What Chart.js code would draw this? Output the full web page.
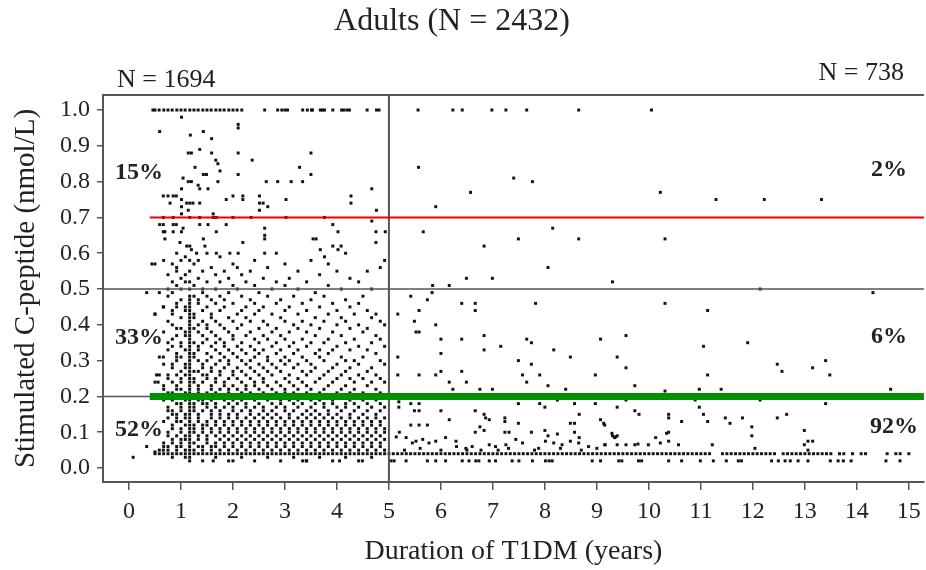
<!DOCTYPE html>
<html>
<head>
<meta charset="utf-8">
<script src="https://cdn.jsdelivr.net/npm/chart.js@4.4.1/dist/chart.umd.min.js"></script>
<style>
  html, body { margin: 0; padding: 0; background: #fff; }
</style>
</head>
<body>
<canvas id="chart" width="926" height="570"></canvas>
<script>
// axis ticks
const durationTicks = [0, 1, 2, 3, 4, 5, 6, 7, 8, 9, 10, 11, 12, 13, 14, 15];
const cpeptideTicks = [0, 0.1, 0.2, 0.3, 0.4, 0.5, 0.6, 0.7, 0.8, 0.9, 1.0];

// first 5 years, one column per month of duration, C-peptide in 0.01 nmol/L
const leftMonths = [6, 7, 8, 9, 10, 11, 12, 13, 14, 15, 16, 17, 18, 19, 20, 21, 22, 23, 24, 25, 26, 27, 28, 29, 30, 31, 32,
  33, 34, 35, 36, 37, 38, 39, 40, 41, 42, 43, 44, 45, 46, 47, 48, 49, 50, 51, 52, 53, 54, 55, 56, 57, 58, 59];
const leftCpeptide = [
  [4, 24, 43, 57],
  [4, 5, 26, 31, 49],
  [4, 6, 7, 13, 19, 22, 23, 29, 38, 45, 58],
  [4, 5, 6, 9, 10, 14, 16, 17, 21, 25, 26, 33, 35, 41, 48, 50, 54],
  [3, 4, 7, 8, 11, 12, 15, 16, 19, 20, 21, 24, 28, 29, 34, 36, 40, 43, 44, 49, 52, 57],
  [4, 5, 6, 9, 13, 14, 15, 18, 22, 23, 26, 30, 31, 32, 37, 39, 45, 46, 51, 55, 56, 60],
  [4, 6, 7, 8, 10, 11, 13, 16, 17, 18, 22, 24, 25, 27, 31, 34, 35, 39, 42, 47, 50, 53, 58],
  [3, 4, 5, 8, 9, 12, 14, 15, 19, 20, 21, 26, 28, 29, 33, 37, 38, 44, 45, 52, 54, 59],
  [2, 3, 4, 5, 6, 7, 8, 9, 10, 11, 12, 13, 14, 15, 16, 17, 18, 19, 20, 21, 22, 23, 24, 25, 26, 27, 28, 29, 30, 31, 32,
    33, 34, 35, 36, 37, 38, 39, 40, 41, 42, 43, 44, 45, 46, 47, 48, 50, 52, 55, 58],
  [4, 5, 7, 10, 11, 12, 16, 17, 18, 20, 24, 25, 27, 31, 32, 35, 39, 42, 43, 48, 51, 57],
  [4, 6, 8, 9, 13, 14, 15, 19, 21, 22, 23, 27, 30, 33, 34, 38, 40, 46, 47, 53, 58],
  [2, 4, 5, 6, 10, 11, 12, 16, 18, 19, 24, 26, 28, 29, 35, 37, 41, 44, 49, 50, 55],
  [4, 7, 8, 9, 12, 13, 17, 18, 20, 21, 25, 26, 30, 32, 36, 39, 40, 45, 48, 52, 60],
  [4, 5, 6, 10, 11, 14, 15, 16, 19, 22, 23, 27, 28, 31, 34, 38, 42, 43, 47, 56],
  [3, 4, 6, 7, 9, 12, 13, 17, 18, 21, 24, 25, 29, 33, 35, 37, 41, 46, 50, 54],
  [4, 5, 8, 10, 11, 14, 15, 16, 20, 22, 26, 27, 30, 32, 36, 40, 44, 48, 52, 59],
  [4, 6, 7, 9, 12, 13, 17, 19, 20, 23, 24, 28, 31, 34, 35, 39, 45, 47, 55],
  [2, 4, 5, 8, 10, 11, 14, 15, 18, 21, 22, 25, 29, 30, 33, 38, 42, 49, 53],
  [4, 6, 7, 9, 12, 13, 16, 17, 19, 23, 26, 27, 32, 36, 37, 41, 46, 51, 57],
  [4, 5, 8, 10, 11, 14, 15, 18, 20, 22, 25, 28, 31, 34, 39, 43, 50, 56],
  [3, 4, 6, 7, 9, 12, 13, 16, 19, 21, 24, 27, 30, 33, 35, 40, 44, 48, 54],
  [4, 5, 8, 10, 11, 14, 17, 18, 22, 23, 26, 29, 32, 37, 42, 45, 52],
  [4, 6, 7, 9, 12, 13, 15, 16, 20, 21, 25, 28, 30, 34, 38, 41, 47, 55],
  [2, 4, 5, 8, 10, 11, 14, 17, 19, 23, 24, 27, 31, 33, 36, 43, 46, 51, 58],
  [4, 6, 7, 9, 12, 13, 15, 18, 20, 22, 26, 29, 32, 35, 39, 44, 49],
  [4, 5, 8, 10, 11, 14, 16, 17, 21, 24, 25, 28, 33, 37, 41, 45, 53],
  [3, 4, 6, 7, 9, 12, 13, 15, 19, 20, 23, 27, 30, 31, 36, 40, 48, 56],
  [4, 5, 8, 10, 11, 14, 16, 18, 22, 26, 29, 34, 38, 43, 50],
  [4, 6, 7, 9, 12, 13, 15, 17, 20, 21, 24, 28, 32, 35, 39, 46, 52, 60],
  [2, 4, 5, 8, 10, 11, 14, 18, 19, 23, 27, 30, 33, 37, 42, 47],
  [4, 6, 7, 9, 12, 13, 16, 17, 21, 22, 25, 29, 31, 36, 41, 44, 51, 57],
  [4, 5, 8, 10, 11, 14, 15, 19, 20, 24, 26, 30, 34, 38, 45, 53],
  [3, 4, 6, 7, 9, 12, 13, 16, 18, 21, 23, 28, 32, 35, 40, 48],
  [4, 5, 8, 10, 11, 14, 17, 19, 22, 25, 29, 33, 39, 43, 50, 55],
  [4, 6, 7, 9, 12, 13, 15, 18, 20, 24, 27, 31, 36, 41, 46],
  [2, 4, 5, 8, 10, 11, 14, 16, 21, 23, 26, 30, 34, 38, 44, 52],
  [4, 6, 7, 9, 12, 13, 15, 17, 19, 22, 27, 29, 35, 40, 47, 58],
  [4, 5, 8, 10, 11, 14, 16, 18, 20, 24, 28, 32, 37, 42, 49],
  [3, 4, 6, 7, 9, 12, 13, 15, 19, 21, 25, 31, 33, 39, 45, 54],
  [4, 5, 8, 10, 11, 14, 17, 18, 22, 26, 30, 35, 41, 48],
  [4, 6, 7, 9, 12, 13, 15, 16, 20, 23, 27, 32, 36, 43, 51, 57],
  [2, 4, 5, 8, 10, 11, 14, 18, 19, 24, 28, 33, 38, 46],
  [4, 6, 7, 9, 12, 13, 15, 17, 21, 25, 29, 34, 40, 44, 55],
  [4, 5, 8, 10, 11, 14, 16, 20, 22, 26, 31, 37, 42, 50],
  [3, 4, 6, 7, 9, 12, 13, 17, 18, 23, 27, 30, 35, 41, 47, 60],
  [4, 5, 8, 10, 11, 14, 15, 19, 21, 25, 28, 33, 39, 45, 53],
  [4, 6, 7, 9, 12, 13, 16, 18, 22, 24, 30, 36, 43],
  [2, 4, 5, 8, 10, 11, 14, 17, 20, 26, 29, 34, 40, 46, 52],
  [4, 6, 7, 9, 12, 13, 15, 19, 21, 25, 31, 38, 48],
  [4, 5, 8, 10, 11, 14, 16, 18, 23, 27, 33, 39, 44, 55],
  [3, 4, 6, 7, 9, 12, 13, 17, 20, 24, 28, 35, 42, 50],
  [4, 5, 8, 10, 11, 14, 15, 19, 22, 26, 32, 37, 43],
  [4, 6, 7, 9, 12, 13, 16, 18, 21, 25, 30, 36, 41, 56],
  [4, 5, 8, 10, 11, 14, 17, 20, 24, 29, 34, 40, 58]
];

// values of 1.0 nmol/L and above, plotted on the 1.0 row (years)
const cappedDurations = [0.46, 0.5, 0.58, 0.67, 0.75, 0.83, 0.92, 1.0, 1.08, 1.17, 1.25, 1.33, 1.42, 1.5, 1.58, 1.67,
  1.75, 1.83, 1.92, 2.0, 2.08, 2.17, 2.61, 2.86, 2.94, 3.0, 3.05, 3.34, 3.43, 3.51, 3.53, 3.68, 3.72, 3.76, 3.92,
  4.09, 4.13, 4.19, 4.24, 4.58, 4.76, 4.81, 5.56, 6.23, 6.41, 6.98, 7.25, 7.65, 8.65, 10.05];

// scattered points [years, nmol/L]
const upperLeftPoints = [
  [0.59, 0.94], [1.01, 0.98], [1.18, 0.93], [1.43, 0.94], [1.59, 0.92], [1.14, 0.88], [1.20, 0.88], [1.36, 0.89],
  [1.59, 0.88], [2.10, 0.96], [2.10, 0.95], [2.10, 0.88], [1.67, 0.86], [1.71, 0.85], [1.75, 0.83], [1.27, 0.84],
  [1.43, 0.82], [1.49, 0.82], [2.10, 0.82], [2.37, 0.86], [1.04, 0.81], [1.14, 0.80], [1.20, 0.80], [1.33, 0.79],
  [1.36, 0.78], [1.52, 0.78], [1.71, 0.80], [1.01, 0.78], [2.64, 0.80], [2.86, 0.80], [3.12, 0.80], [3.34, 0.80],
  [3.28, 0.84], [3.50, 0.88], [3.50, 0.82], [0.66, 0.76], [0.75, 0.76], [0.85, 0.76], [0.91, 0.76], [0.79, 0.74],
  [1.01, 0.75], [1.11, 0.74], [1.17, 0.74], [1.23, 0.74], [1.36, 0.74], [1.01, 0.73], [1.14, 0.72], [1.87, 0.75],
  [2.00, 0.76], [2.19, 0.76], [2.19, 0.75], [2.51, 0.76], [2.51, 0.74], [2.58, 0.74], [2.67, 0.73], [3.02, 0.75],
  [0.66, 0.70], [0.85, 0.70], [1.01, 0.71], [1.17, 0.70], [1.36, 0.70], [1.62, 0.71], [1.62, 0.70], [1.68, 0.70],
  [2.00, 0.70], [2.35, 0.70], [2.51, 0.72], [3.02, 0.70], [0.59, 0.68], [0.66, 0.68], [0.85, 0.68], [0.91, 0.68],
  [1.04, 0.67], [1.36, 0.68], [1.52, 0.68], [1.87, 0.68], [0.66, 0.66], [0.69, 0.66], [0.85, 0.66], [1.01, 0.66],
  [1.68, 0.66], [2.61, 0.67], [2.61, 0.65], [0.69, 0.64], [0.98, 0.63], [1.11, 0.62], [1.17, 0.62], [1.20, 0.61],
  [1.30, 0.60], [1.43, 0.64], [1.46, 0.62], [1.68, 0.60], [1.94, 0.60], [2.10, 0.60], [2.19, 0.63], [2.61, 0.64],
  [2.61, 0.60], [3.54, 0.64], [3.60, 0.64], [4.27, 0.76], [4.27, 0.74], [4.67, 0.78], [4.76, 0.72], [4.67, 0.69],
  [3.76, 0.70], [3.92, 0.68], [4.02, 0.66], [3.68, 0.61], [3.92, 0.62], [4.02, 0.61], [4.08, 0.62], [4.75, 0.66],
  [4.93, 0.66], [4.75, 0.63], [3.76, 0.59], [0.44, 0.57], [0.34, 0.49], [0.50, 0.43], [0.66, 0.45], [0.66, 0.31],
  [0.53, 0.26], [0.56, 0.24], [0.08, 0.03], [0.34, 0.06], [0.50, 0.045], [0.66, 0.05]
];
const upperRightPoints = [
  [5.57, 0.84], [7.40, 0.81], [7.76, 0.80], [6.57, 0.77], [5.90, 0.73], [5.66, 0.66], [8.15, 0.67], [6.83, 0.62],
  [7.49, 0.64], [8.65, 0.64], [10.22, 0.77], [11.29, 0.75], [12.22, 0.75], [13.32, 0.75], [10.31, 0.64], [8.06, 0.56],
  [6.99, 0.53], [6.49, 0.53], [5.84, 0.51], [6.16, 0.51], [9.30, 0.52], [12.14, 0.50],
  [5.83, 0.49], [5.42, 0.48], [5.74, 0.47], [6.40, 0.46], [6.66, 0.46], [6.66, 0.44], [7.82, 0.46], [5.17, 0.43],
  [5.58, 0.44], [5.49, 0.41], [5.52, 0.38], [5.58, 0.38], [5.90, 0.40], [6.00, 0.36], [6.40, 0.36], [6.83, 0.37],
  [6.83, 0.33], [7.15, 0.34], [7.65, 0.36], [7.74, 0.35], [8.17, 0.33], [8.49, 0.31], [9.07, 0.36], [9.39, 0.31],
  [6.00, 0.32], [5.17, 0.31], [7.49, 0.30], [7.74, 0.29], [5.17, 0.26], [5.58, 0.26], [5.90, 0.26], [6.00, 0.27],
  [6.40, 0.27], [7.57, 0.26], [7.90, 0.26], [8.97, 0.26], [6.16, 0.24], [6.49, 0.24], [6.75, 0.22], [6.99, 0.22],
  [7.65, 0.24], [8.06, 0.23], [8.40, 0.22], [6.23, 0.22], [14.31, 0.49], [10.31, 0.46], [11.13, 0.44], [9.56, 0.37],
  [11.05, 0.34], [11.90, 0.35], [9.56, 0.28], [11.13, 0.26], [12.47, 0.29], [12.56, 0.27], [13.15, 0.28], [13.40, 0.30],
  [13.48, 0.26], [9.73, 0.23], [11.39, 0.22], [14.65, 0.22], [10.31, 0.215], [10.97, 0.22]
];
const lowerRightPoints = [
  [5.19, 0.185], [5.19, 0.17], [5.42, 0.18], [5.58, 0.18], [5.49, 0.16], [5.58, 0.16], [6.00, 0.16], [6.66, 0.16],
  [6.83, 0.15], [6.86, 0.14], [7.49, 0.18], [7.90, 0.18], [8.00, 0.17], [8.24, 0.19], [8.57, 0.18], [8.97, 0.18],
  [8.66, 0.15], [9.07, 0.135], [9.15, 0.12], [6.16, 0.135], [5.42, 0.12], [5.58, 0.12], [5.74, 0.12], [6.66, 0.10],
  [6.75, 0.115], [6.83, 0.105], [6.93, 0.135], [7.23, 0.14], [7.23, 0.13], [7.23, 0.10], [7.31, 0.10], [7.49, 0.125],
  [7.74, 0.10], [8.00, 0.105], [8.06, 0.09], [8.24, 0.095], [8.49, 0.125], [8.57, 0.125], [8.57, 0.10], [8.66, 0.085],
  [9.29, 0.097], [9.39, 0.09], [5.20, 0.10], [5.14, 0.087], [5.33, 0.085], [5.45, 0.07], [5.52, 0.075], [5.65, 0.08],
  [5.77, 0.07], [5.90, 0.075], [6.09, 0.085], [6.29, 0.075], [6.48, 0.055], [6.60, 0.06], [6.77, 0.05], [6.93, 0.065],
  [7.05, 0.06], [7.25, 0.065], [7.44, 0.08], [7.57, 0.07], [7.88, 0.055], [8.01, 0.075], [8.17, 0.07], [8.33, 0.065],
  [8.49, 0.075], [8.65, 0.07], [8.84, 0.06], [9.16, 0.065], [9.36, 0.087], [5.30, 0.05], [5.60, 0.055], [6.00, 0.05],
  [6.30, 0.06], [6.50, 0.05], [7.10, 0.05], [7.30, 0.055], [7.80, 0.05], [8.30, 0.055], [8.70, 0.05], [9.00, 0.055],
  [12.14, 0.19], [10.89, 0.19], [13.40, 0.18], [9.39, 0.17], [9.56, 0.19], [9.73, 0.16], [9.81, 0.15], [10.38, 0.15],
  [10.38, 0.14], [10.63, 0.13], [10.97, 0.17], [11.05, 0.15], [11.13, 0.13], [11.47, 0.14], [11.56, 0.125], [11.80, 0.14],
  [11.98, 0.115], [11.98, 0.09], [12.47, 0.14], [12.65, 0.15], [12.99, 0.105], [12.99, 0.065], [13.06, 0.075],
  [13.15, 0.075], [13.06, 0.05], [9.30, 0.09], [9.34, 0.085], [9.13, 0.125], [10.13, 0.085], [10.22, 0.07],
  [10.38, 0.075], [10.38, 0.10], [10.34, 0.097], [10.57, 0.065], [11.22, 0.065], [12.04, 0.055], [9.15, 0.065],
  [9.39, 0.065], [9.56, 0.065], [9.73, 0.065], [9.79, 0.067], [9.99, 0.065]
];

// detection-limit rows after 5 years: 0.04 row (months) and 0.02 row (years)
const floorMonths = [60, 61, 62, 63, 64, 65, 66, 67, 68, 69, 70, 71, 72, 73, 74, 75, 76, 77, 78, 79, 80, 81, 82, 83,
  84, 85, 86, 87, 88, 89, 90, 91, 92, 93, 94, 95, 96, 97, 98, 99, 100, 101, 102, 103, 104, 105, 106, 107, 108, 109,
  110, 111, 112, 113, 114, 115, 116, 117, 118, 119, 120, 121, 122, 123, 124, 125, 126, 127, 128, 129, 130, 131, 132,
  133, 134, 137, 138, 139, 140, 141, 142, 143, 144, 145, 146, 147, 148, 149, 151, 152, 153, 154, 155, 156, 157, 158,
  159, 160, 161, 162, 164, 165, 167, 169, 170, 175, 177, 178, 180];
const lowFloorDurations = [1.62, 2.0, 3.34, 3.41, 4.05, 4.49, 5.04, 5.10, 5.33, 5.74, 5.90, 6.09, 6.41, 6.54, 6.67,
  6.73, 6.93, 7.05, 7.37, 7.50, 7.76, 8.01, 8.08, 8.14, 8.91, 9.07, 9.42, 9.48, 9.80, 9.86, 10.38, 10.63, 10.99,
  11.24, 11.49, 11.72, 11.78, 12.36, 12.49, 12.62, 12.72, 12.87, 13.06, 13.49, 13.64, 13.74, 13.89, 14.56, 14.83];

// build point lists for Chart.js
const leftPoints = [];
leftMonths.forEach((m, i) => leftCpeptide[i].forEach(v => leftPoints.push({x: m / 12, y: v / 100})));
const cappedPoints = cappedDurations.map(d => ({x: d, y: 1.0}));
const pairPoints = upperLeftPoints.concat(upperRightPoints, lowerRightPoints).map(p => ({x: p[0], y: p[1]}));
const floorPoints = floorMonths.map(m => ({x: m / 12, y: 0.04}))
  .concat(lowFloorDurations.map(d => ({x: d, y: 0.02})));

const serif = "'Liberation Serif', 'Times New Roman', serif";
const ink = '#222';

function dotSet(data) {
  return {
    data: data,
    pointStyle: 'rect',
    pointRadius: 2.1,
    pointHoverRadius: 2.1,
    backgroundColor: '#111',
    borderColor: '#111',
    borderWidth: 0
  };
}

// reference lines, frame and labels
const overlay = {
  id: 'overlay',
  afterDatasetsDraw(chart) {
    const {ctx, chartArea: a, scales: {x, y}} = chart;
    const line = (x1, y1, x2, y2, color, w) => {
      ctx.beginPath();
      ctx.strokeStyle = color;
      ctx.lineWidth = w;
      ctx.moveTo(x1, y1);
      ctx.lineTo(x2, y2);
      ctx.stroke();
    };
    ctx.save();
    line(a.left, a.top, a.right, a.top, '#555', 2);
    line(x.getPixelForValue(5), a.top, x.getPixelForValue(5), a.bottom, '#555', 2);
    line(a.left, y.getPixelForValue(0.5), a.right, y.getPixelForValue(0.5), '#555', 1.5);
    line(a.left, y.getPixelForValue(0.2), a.right, y.getPixelForValue(0.2), '#555', 1.5);
    line(x.getPixelForValue(0.4), y.getPixelForValue(0.7), a.right, y.getPixelForValue(0.7), 'rgb(235,0,0)', 2);
    line(x.getPixelForValue(0.4), y.getPixelForValue(0.2), a.right, y.getPixelForValue(0.2), 'rgb(0,145,0)', 7);

    ctx.fillStyle = ink;
    ctx.textBaseline = 'middle';
    ctx.textAlign = 'center';
    ctx.font = '32px ' + serif;
    ctx.fillText('Adults (N = 2432)', 452, 22);
    ctx.font = '26px ' + serif;
    ctx.textAlign = 'left';
    ctx.fillText('N = 1694', 117, 80);
    ctx.textAlign = 'right';
    ctx.fillText('N = 738', 904, 73);
    ctx.font = 'bold 24px ' + serif;
    ctx.textAlign = 'left';
    ctx.fillText('15%', 115, 173);
    ctx.fillText('33%', 115, 338);
    ctx.fillText('52%', 115, 430);
    ctx.textAlign = 'right';
    ctx.fillText('2%', 907, 170);
    ctx.fillText('6%', 907, 337);
    ctx.fillText('92%', 918, 427);
    ctx.restore();
  }
};

new Chart(document.getElementById('chart'), {
  type: 'scatter',
  data: {
    datasets: [dotSet(leftPoints), dotSet(cappedPoints), dotSet(pairPoints), dotSet(floorPoints)]
  },
  options: {
    responsive: false,
    animation: false,
    devicePixelRatio: 1,
    layout: {padding: {top: 95, right: 0, left: 0, bottom: 0}},
    plugins: {legend: {display: false}, tooltip: {enabled: false}},
    scales: {
      x: {
        type: 'linear',
        min: -0.5,
        max: 15.29,
        afterBuildTicks: s => { s.ticks = durationTicks.map(v => ({value: v})); },
        afterFit: s => { s.height = 88; s.paddingLeft = 0; s.paddingRight = 0; },
        grid: {drawOnChartArea: false, tickLength: 8, color: '#555', lineWidth: 1.5},
        border: {display: true, color: '#555', width: 2},
        ticks: {color: ink, padding: 7, maxRotation: 0, font: {family: serif, size: 24},
          callback: v => String(v)},
        title: {display: true, text: 'Duration of T1DM (years)', color: ink,
          font: {family: serif, size: 28}, padding: {top: 0, bottom: 2}}
      },
      y: {
        type: 'linear',
        min: -0.039,
        max: 1.042,
        afterBuildTicks: s => { s.ticks = cpeptideTicks.map(v => ({value: v})); },
        afterFit: s => { s.width = 103; s.paddingTop = 0; s.paddingBottom = 0; },
        grid: {drawOnChartArea: false, tickLength: 6, color: '#555', lineWidth: 1.5},
        border: {display: true, color: '#555', width: 2},
        ticks: {color: ink, padding: 7, font: {family: serif, size: 24},
          callback: v => Number(v).toFixed(1)},
        title: {display: true, text: 'Stimulated C-peptide (nmol/L)', color: ink,
          font: {family: serif, size: 29}, padding: {top: 9, bottom: 0}}
      }
    }
  },
  plugins: [overlay]
});
</script>
</body>
</html>
